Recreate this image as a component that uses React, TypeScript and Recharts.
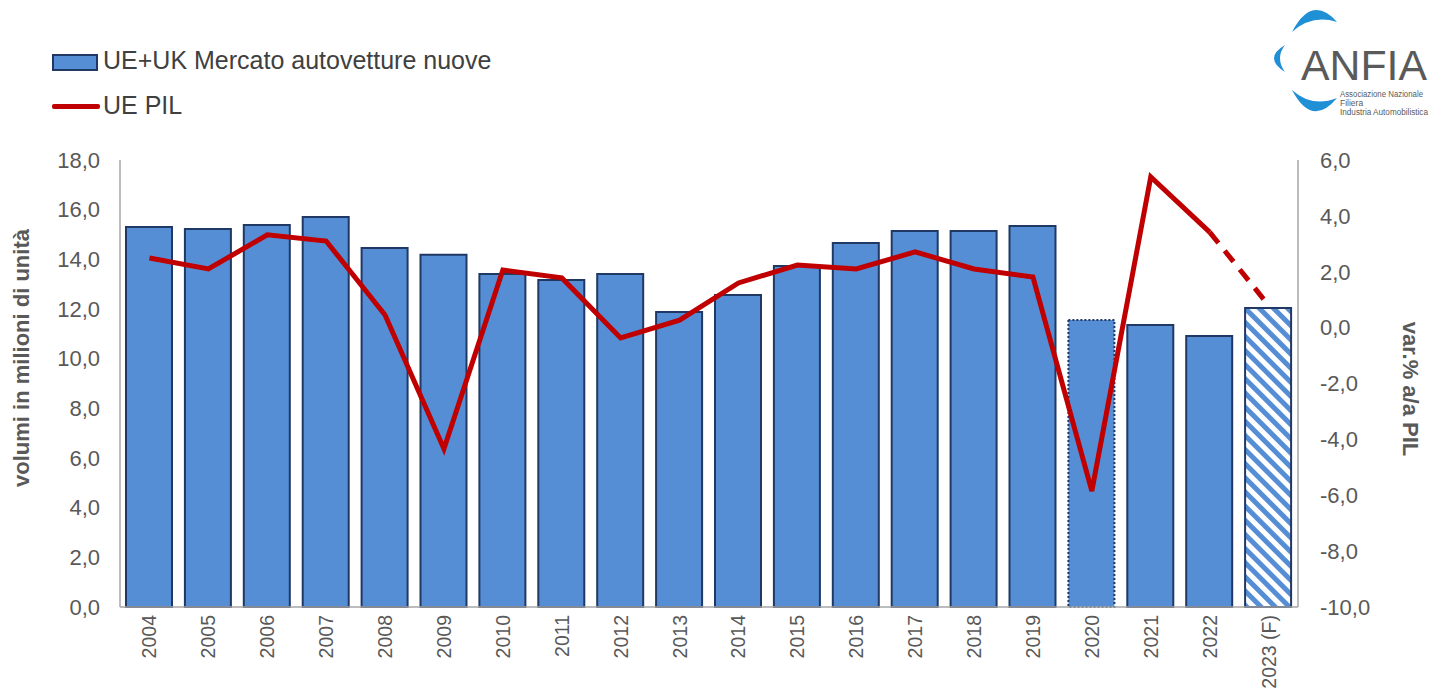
import React from 'react';
import { ComposedChart, Bar, Line, XAxis, YAxis, Cell } from 'recharts';

const years = ['2004', '2005', '2006', '2007', '2008', '2009', '2010', '2011', '2012', '2013', '2014', '2015', '2016', '2017', '2018', '2019', '2020', '2021', '2022', '2023 (F)'];
// milioni di unità
const market = [15.3, 15.22, 15.38, 15.7, 14.46, 14.18, 13.41, 13.17, 13.41, 11.88, 12.56, 13.73, 14.66, 15.14, 15.14, 15.34, 11.56, 11.36, 10.91, 12.04];
// var. % a/a
const gdp = [2.49, 2.1, 3.32, 3.1, 0.45, -4.34, 2.06, 1.78, -0.37, 0.27, 1.6, 2.24, 2.1, 2.71, 2.1, 1.81, -5.85, 5.39, 3.42, 0.8];
const leftTicks = [0, 2, 4, 6, 8, 10, 12, 14, 16, 18];
const rightTicks = [-10, -8, -6, -4, -2, 0, 2, 4, 6];
const dottedYear = '2020';
const forecastYear = '2023 (F)';

const forecastIdx = years.indexOf(forecastYear);
const data = years.map((year, i) => ({
  year,
  market: market[i],
  gdp: i < forecastIdx ? gdp[i] : null,
  gdpF: i >= forecastIdx - 1 ? gdp[i] : null,
}));
const boundTicks = years.map((_, i) => i).concat(years.length);

const fmt = (v: number) => v.toFixed(1).replace('.', ',');
const FONT = '"Liberation Sans", Arial, sans-serif';
const GREY = '#595959';
const BLUE = '#558ED5';
const NAVY = '#1F3864';
const RED = '#C00000';
const LOGO_BLUE = '#1F8FD6';

const YearTick = (props: any) => {
  const { x, y, payload } = props;
  return (
    <text x={x} y={y} transform={`rotate(-90, ${x}, ${y})`} textAnchor="end" dominantBaseline="central"
      fill={GREY} fontSize={19.5} fontFamily={FONT}>
      {payload.value}
    </text>
  );
};

const Logo = () => (
  <svg width={171} height={125} style={{ position: 'absolute', left: 1262, top: 0 }}>
    <path d="M 30 32 Q 50 -6 75 22 Q 50 14 30 32 Z" fill={LOGO_BLUE} />
    <path d="M 23 45 Q 1 58 23 72 Q 13 58 23 45 Z" fill={LOGO_BLUE} />
    <path d="M 30 90 Q 50 128 75 98 Q 50 108 30 90 Z" fill={LOGO_BLUE} />
    <text x={39} y={80} fontSize={42} fontFamily={FONT} fill="#5A5A5A" textLength={126} lengthAdjust="spacingAndGlyphs">ANFIA</text>
    <text x={78} y={97} fontSize={8.5} fontFamily={FONT} fill="#5A5A5A" textLength={83} lengthAdjust="spacingAndGlyphs">Associazione Nazionale</text>
    <text x={78} y={106} fontSize={8.5} fontFamily={FONT} fill="#5A5A5A">Filiera</text>
    <text x={78} y={115} fontSize={8.5} fontFamily={FONT} fill="#5A5A5A" textLength={88} lengthAdjust="spacingAndGlyphs">Industria Automobilistica</text>
  </svg>
);

export default function App() {
  return (
    <div style={{ position: 'absolute', left: 0, top: 0, width: 1433, height: 696, background: '#fff', fontFamily: FONT }}>
      <svg width={0} height={0} style={{ position: 'absolute' }}>
        <defs>
          <pattern id="hatch" width={10} height={10} patternUnits="userSpaceOnUse" patternTransform="rotate(-45)">
            <rect width={10} height={10} fill="#fff" />
            <rect width={5} height={10} fill={BLUE} />
          </pattern>
        </defs>
      </svg>

      {/* legend */}
      <div style={{ position: 'absolute', left: 52, top: 54, width: 46, height: 17, background: BLUE, border: `2px solid ${NAVY}`, boxSizing: 'border-box' }} />
      <div style={{ position: 'absolute', left: 103, top: 46, fontSize: 25, color: '#404040' }}>UE+UK Mercato autovetture nuove</div>
      <div style={{ position: 'absolute', left: 52, top: 104, width: 48, height: 5, background: RED, borderRadius: 2 }} />
      <div style={{ position: 'absolute', left: 103, top: 91, fontSize: 25, color: '#404040' }}>UE PIL</div>

      <Logo />

      <ComposedChart width={1433} height={696} data={data} barSize={46}
        margin={{ top: 160, right: 45, bottom: 0, left: 60 }}>
        <XAxis xAxisId="bounds" type="number" domain={[0, years.length]} ticks={boundTicks} allowDataOverflow
          height={0} tick={false} tickSize={8} tickLine={{ stroke: '#A6A6A6' }} axisLine={false} />
        <XAxis dataKey="year" height={89} interval={0} tickLine={false} tick={<YearTick />}
          axisLine={{ stroke: '#A6A6A6', strokeWidth: 1.5 }} />
        <XAxis xAxisId="top" dataKey="year" orientation="top" height={0} tick={false} tickLine={false}
          axisLine={{ stroke: '#A6A6A6', strokeWidth: 1.5 }} />
        <YAxis yAxisId="left" width={60} domain={[0, 18]} ticks={leftTicks} tickFormatter={fmt}
          tickLine={false} tickMargin={14} axisLine={{ stroke: '#A6A6A6', strokeWidth: 1.5 }}
          tick={{ fill: GREY, fontSize: 22, fontFamily: FONT }} />
        <YAxis yAxisId="right" orientation="right" width={90} domain={[-10, 6]} ticks={rightTicks} tickFormatter={fmt}
          tickLine={false} tickMargin={16} axisLine={{ stroke: '#A6A6A6', strokeWidth: 1.5 }}
          tick={{ fill: GREY, fontSize: 22, fontFamily: FONT, textAnchor: 'start' }} />
        <Bar yAxisId="left" dataKey="market" fill={BLUE} stroke={NAVY} strokeWidth={2} isAnimationActive={false}>
          {data.map((d) => (
            <Cell key={d.year}
              fill={d.year === forecastYear ? 'url(#hatch)' : BLUE}
              strokeDasharray={d.year === dottedYear ? '2 2' : undefined} />
          ))}
        </Bar>
        <Line yAxisId="right" dataKey="gdp" type="linear" stroke={RED} strokeWidth={5} dot={false}
          connectNulls={false} isAnimationActive={false} />
        <Line yAxisId="right" dataKey="gdpF" type="linear" stroke={RED} strokeWidth={5} dot={false}
          strokeDasharray="14 10" isAnimationActive={false} />
      </ComposedChart>

      <div style={{ position: 'absolute', left: 22, top: 358, transform: 'translate(-50%, -50%) rotate(-90deg)', whiteSpace: 'nowrap', fontSize: 22, fontWeight: 'bold', color: GREY }}>
        volumi in milioni di unità
      </div>
      <div style={{ position: 'absolute', left: 1410, top: 389, transform: 'translate(-50%, -50%) rotate(90deg)', whiteSpace: 'nowrap', fontSize: 22, fontWeight: 'bold', color: GREY }}>
        var.% a/a PIL
      </div>
    </div>
  );
}
